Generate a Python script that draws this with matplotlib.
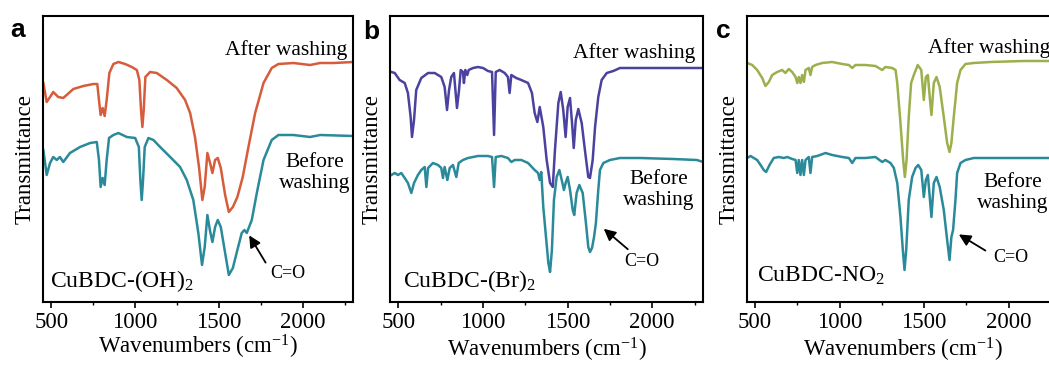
# -----------------------------
# FTIR spectra, before / after washing (three MOFs)
# -----------------------------
import numpy as np
import matplotlib
matplotlib.use("Agg")
import matplotlib.pyplot as plt
from matplotlib.ticker import MultipleLocator

plt.rcParams["font.family"] = "Liberation Serif"
plt.rcParams["mathtext.fontset"] = "custom"
plt.rcParams["mathtext.rm"] = "Liberation Serif"
plt.rcParams["mathtext.it"] = "Liberation Serif:italic"

# ---------- DATA (transmittance in a.u.) ----------
# panel a : CuBDC-(OH)2
a_after_wn = [452, 472, 492, 511, 541, 571, 591, 631, 691, 750, 774, 784, 794, 806, 818, 830, 846, 870, 900, 940,
              980, 1010, 1025, 1035, 1043, 1051, 1061, 1089, 1129, 1189, 1248, 1298, 1328, 1357, 1381, 1401, 1415,
              1431, 1447, 1461, 1477, 1493, 1511, 1537, 1559, 1583, 1610, 1642, 1676, 1716, 1766, 1815, 1855, 1944,
              2044, 2104, 2184, 2303]
a_after = [220, 201, 206, 211, 206, 205, 208, 214, 217, 219, 219, 203, 188, 195, 187, 203, 230, 239, 241, 239,
           236, 233, 223, 193, 176, 193, 226, 231, 230, 223, 215, 203, 190, 166, 136, 103, 116,
           150, 140, 130, 143, 145, 135, 108, 91, 96, 106, 126, 156, 190, 220, 235, 239, 240,
           238, 240, 240, 241]

a_before_wn = [452, 472, 492, 511, 532, 551, 571, 611, 671, 731, 771, 784, 794, 806, 818, 830, 844, 870, 900, 950,
               1000, 1022, 1031, 1039, 1047, 1057, 1079, 1109, 1149, 1209, 1268, 1308, 1347, 1377, 1399, 1415, 1431,
               1447, 1461, 1477, 1493, 1511, 1537, 1559, 1583, 1610, 1636, 1652, 1666, 1696, 1726, 1766, 1815, 1855,
               1944, 2044, 2104, 2303]
a_before = [153, 128, 140, 146, 143, 146, 141, 150, 156, 160, 161, 143, 116, 125, 118, 143, 165, 168, 170, 166,
            165, 156, 123, 103, 123, 156, 165, 163, 156, 146, 136, 123, 103, 70, 38, 56, 88,
            72, 61, 76, 83, 76, 50, 28, 35, 53, 70, 73, 70, 83, 110, 143, 163, 168,
            168, 166, 168, 167]

# panel b : CuBDC-(Br)2
b_after_wn = [458, 478, 507, 537, 556, 572, 580, 592, 605, 635, 675, 714, 753, 773, 787, 799, 812, 828, 838, 846,
              858, 868, 881, 887, 895, 907, 915, 941, 970, 1000, 1029, 1053, 1065, 1075, 1098, 1128, 1147, 1157,
              1167, 1196, 1226, 1266, 1289, 1305, 1321, 1335, 1356, 1376, 1396, 1412, 1425, 1445, 1459, 1474, 1488,
              1500, 1514, 1526, 1536, 1548, 1563, 1583, 1602, 1622, 1632, 1648, 1662, 1681, 1701, 1731, 1770, 1809,
              1849, 2026, 2302]
b_after = [231, 230, 223, 220, 210, 186, 166, 183, 213, 225, 230, 230, 226, 216, 193, 213, 226, 230, 210, 195,
           213, 233, 231, 220, 233, 228, 233, 235, 236, 235, 232, 231, 168, 231, 233, 230, 226, 210,
           228, 225, 223, 220, 210, 190, 181, 196, 176, 143, 120, 116, 153, 200, 211, 193, 166,
           196, 205, 180, 155, 183, 194, 180, 153, 126, 125, 143, 176, 206, 223, 230, 232, 235,
           235, 235, 235]

b_before_wn = [458, 478, 497, 517, 537, 556, 576, 592, 615, 635, 655, 665, 675, 704, 734, 753, 763, 773, 789, 803,
               822, 842, 856, 881, 911, 941, 970, 1029, 1053, 1065, 1075, 1108, 1147, 1167, 1187, 1226, 1266, 1305,
               1325, 1335, 1344, 1356, 1372, 1386, 1396, 1407, 1419, 1435, 1451, 1465, 1478, 1488, 1500, 1514, 1530,
               1539, 1553, 1569, 1589, 1608, 1622, 1632, 1644, 1656, 1667, 1681, 1691, 1711, 1750, 1809, 1928, 2124,
               2263, 2302]
b_before = [128, 130, 128, 130, 125, 120, 110, 120, 128, 133, 136, 116, 135, 140, 138, 135, 125, 136, 123, 135,
            138, 126, 140, 143, 145, 146, 147, 147, 146, 116, 146, 147, 145, 141, 143, 143, 140, 133,
            130, 123, 131, 96, 66, 40, 31, 53, 103, 126, 133, 123, 113, 120, 126, 113, 93,
            88, 110, 118, 110, 80, 56, 51, 55, 66, 80, 113, 133, 140, 143, 145, 145, 144,
            143, 141]

# panel c : CuBDC-NO2
c_after_wn = [454, 484, 513, 543, 562, 582, 602, 631, 661, 680, 700, 720, 740, 750, 759, 769, 779, 789, 799, 818,
              828, 838, 858, 897, 956, 1016, 1055, 1075, 1094, 1153, 1212, 1252, 1271, 1311, 1331, 1341, 1360,
              1376, 1386, 1396, 1409, 1423, 1439, 1462, 1483, 1498, 1510, 1522, 1533, 1543, 1557, 1573, 1592,
              1616, 1636, 1650, 1661, 1675, 1695, 1715, 1744, 1793, 1892, 2089, 2300]
c_after = [240, 238, 233, 225, 217, 221, 228, 231, 233, 230, 234, 231, 226, 220, 226, 220, 228, 221, 233, 235,
           228, 236, 238, 240, 241, 239, 238, 235, 238, 238, 237, 233, 236, 235, 233, 220, 180,
           143, 126, 143, 186, 220, 228, 238, 233, 203, 226, 228, 206, 188, 220, 226, 216,
           186, 160, 151, 160, 186, 220, 233, 239, 240, 241, 242, 242]

c_before_wn = [454, 474, 493, 513, 533, 552, 566, 586, 611, 641, 670, 691, 720, 740, 750, 759, 769, 779, 789, 799,
               818, 828, 838, 868, 917, 956, 1016, 1055, 1075, 1094, 1153, 1212, 1252, 1271, 1301, 1321, 1341,
               1360, 1374, 1384, 1394, 1409, 1429, 1449, 1465, 1483, 1498, 1510, 1522, 1533, 1543, 1557, 1573,
               1592, 1616, 1636, 1650, 1661, 1671, 1685, 1695, 1715, 1744, 1793, 1892, 2089, 2300]
c_before = [145, 147, 145, 143, 138, 133, 131, 138, 145, 146, 145, 146, 144, 143, 130, 143, 128, 143, 128, 143,
            146, 130, 146, 147, 150, 148, 146, 145, 140, 145, 145, 146, 141, 143, 140, 135, 120,
            86, 53, 33, 53, 103, 126, 135, 138, 133, 106, 123, 128, 106, 86, 120, 126,
            116, 93, 63, 43, 66, 73, 103, 130, 140, 143, 145, 145, 145, 145]

sample_names = [r"CuBDC-(OH)$_2$", r"CuBDC-(Br)$_2$", r"CuBDC-NO$_2$"]
panel_letters = ["a", "b", "c"]

# ---------- STYLE ----------
teal = "#2a8a9a"
after_colors = ["#d75c3c", "#4b42a0", "#9bb04c"]

# axes rectangles in pixels (left, right), figure is 1049 x 365
W, H = 1049.0, 365.0
px_lr = [(43, 353), (390, 703), (746.5, 1059.5)]
px_top, px_bot = 16, 302

# text placement per panel (data coords)
cfg = [
    dict(after_xy=(2265, 253), after_ha="right", before_xy=(2074, 130), name_xy=(492, 16),
         co_xy=(1910, 29), arrow_tail=(1787, 38), arrow_head=(1672, 70), letter_px=(10, 30), xlpad=0),
    dict(after_xy=(2253, 250), after_ha="right", before_xy=(2040, 113), name_xy=(527, 16),
         co_xy=(1937, 41), arrow_tail=(1868, 52), arrow_head=(1701, 76), letter_px=(363, 32), xlpad=2.5),
    dict(after_xy=(1520, 255), after_ha="left", before_xy=(2022, 110), name_xy=(515, 21),
         co_xy=(2010, 45), arrow_tail=(1876, 51), arrow_head=(1691, 70), letter_px=(716, 31), xlpad=2.5),
]

data = [
    (a_after_wn, a_after, a_before_wn, a_before),
    (b_after_wn, b_after, b_before_wn, b_before),
    (c_after_wn, c_after, c_before_wn, c_before),
]

# ---------- PLOT ----------
fig = plt.figure(figsize=(W / 100, H / 100), dpi=100)

for i in range(3):
    l, r = px_lr[i]
    ax = fig.add_axes([l / W, 1 - px_bot / H, (r - l) / W, (px_bot - px_top) / H])
    wn_aft, y_aft, wn_bef, y_bef = data[i]
    c = cfg[i]

    ax.plot(wn_aft, y_aft, color=after_colors[i], lw=1.8, solid_joinstyle="round")
    ax.plot(wn_bef, y_bef, color=teal, lw=1.8, solid_joinstyle="round")

    ax.set_xlim(450, 2300)
    ax.set_ylim(1, 287)
    ax.set_yticks([])
    ax.xaxis.set_major_locator(MultipleLocator(500))
    ax.xaxis.set_minor_locator(MultipleLocator(250))
    ax.tick_params(axis="x", which="major", direction="out", length=4, width=1.2, labelsize=16.5, pad=3)
    ax.tick_params(axis="x", which="minor", direction="out", length=2.5, width=1.0)
    for s in ax.spines.values():
        s.set_linewidth(1.5)

    ax.set_xlabel(r"Wavenumbers (cm$^{-1}$)", fontsize=16.5, labelpad=c["xlpad"])
    ax.set_ylabel("Transmittance", fontsize=16.5, labelpad=5)

    ax.text(*c["after_xy"], "After washing", fontsize=15.5, ha=c["after_ha"], va="center", clip_on=False)
    ax.text(*c["before_xy"], "Before\nwashing", fontsize=15.5, ha="center", va="center",
            multialignment="center", linespacing=1.1, clip_on=False)
    ax.text(*c["name_xy"], sample_names[i], fontsize=17, ha="left", va="baseline")
    ax.text(*c["co_xy"], "C=O", fontsize=13, ha="center", va="center")
    ax.annotate("", xy=c["arrow_head"], xytext=c["arrow_tail"],
                arrowprops=dict(arrowstyle="-|>,head_length=0.7,head_width=0.35", color="black", lw=1.3))

    lx, ly = c["letter_px"]
    fig.text(lx / W, 1 - ly / H, panel_letters[i], fontsize=19, fontweight="bold",
             family="Liberation Sans", ha="left", va="center")

fig.savefig("out.png", dpi=100)
